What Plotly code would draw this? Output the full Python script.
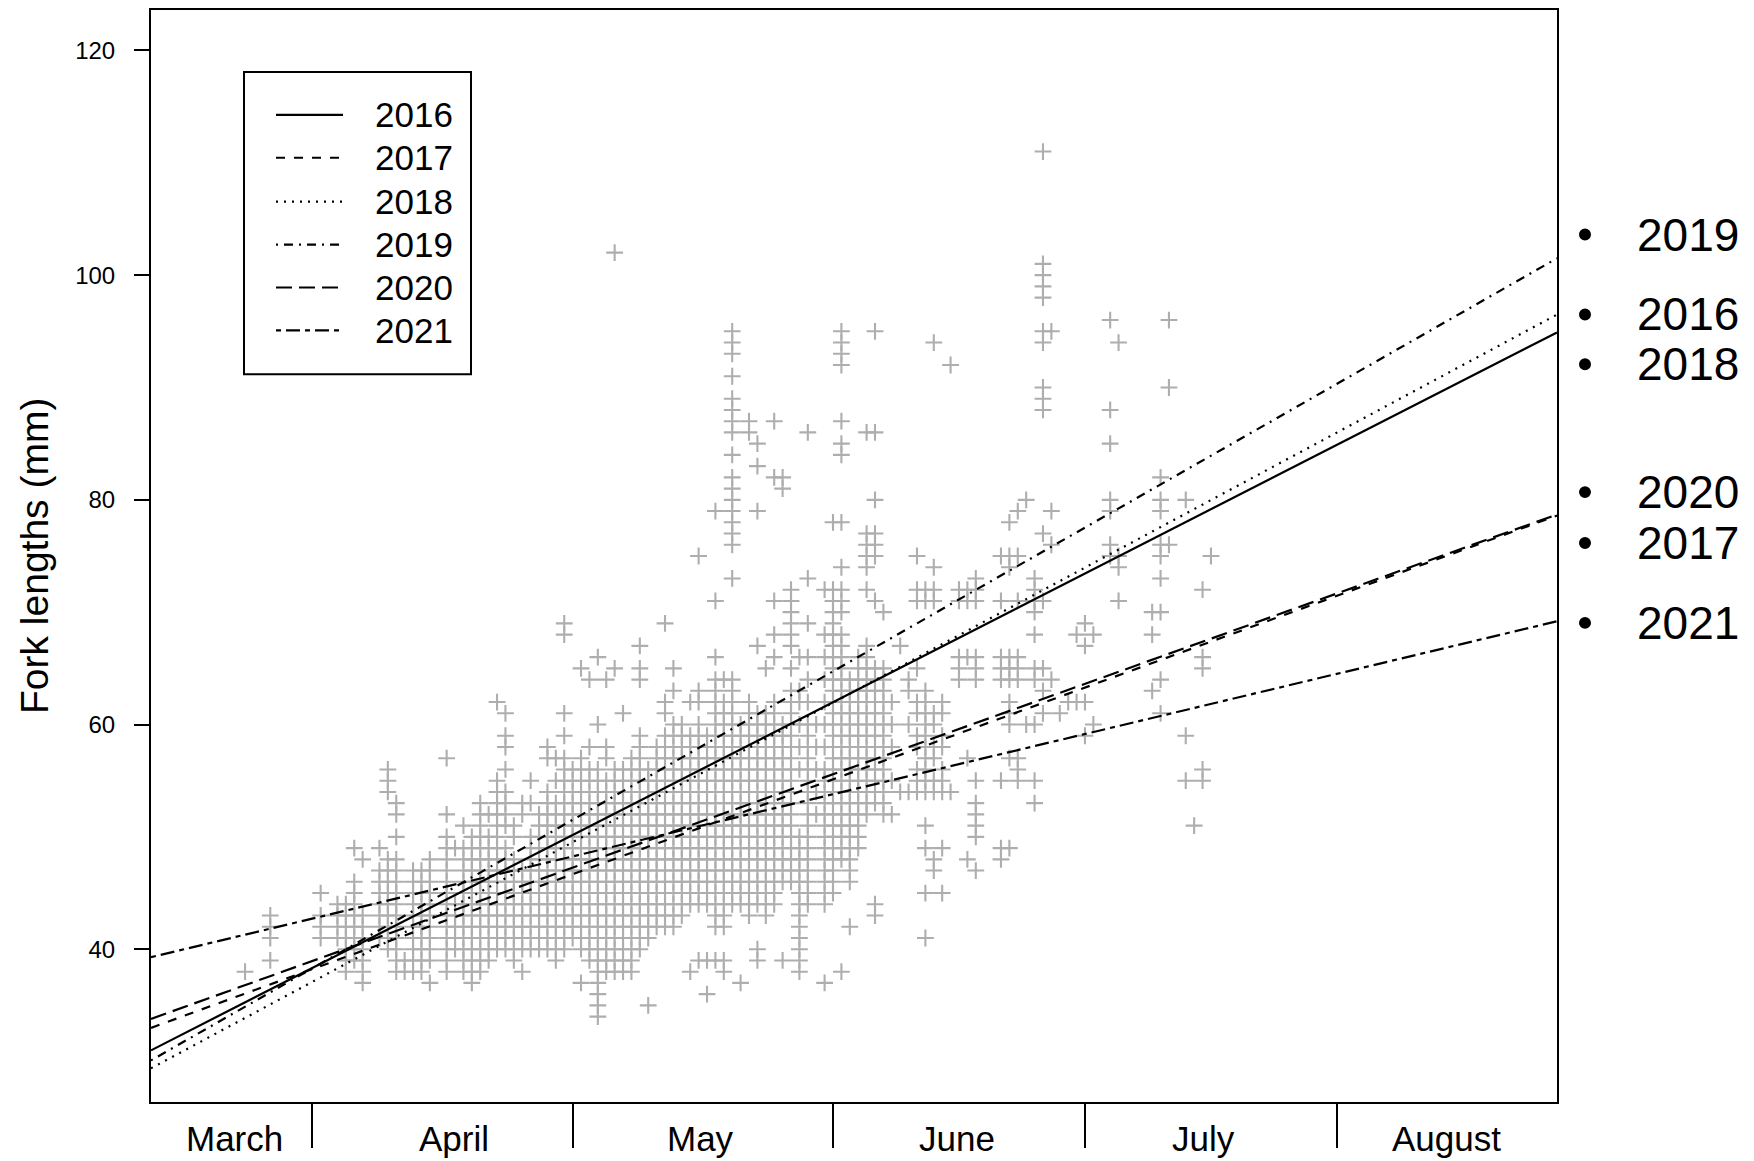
import plotly.graph_objects as go

W, H = 1754, 1161
# plot-area edges in pixels (layout only)
L, R, T, B = 151, 1557, 8, 1102

# ---------------- data ----------------
obs_days = [83, 86, 92, 94, 95, 96, 97, 99, 100, 101, 102, 103, 104, 105, 107, 108, 109, 110,
            111, 112, 113, 114, 115, 116, 117, 118, 119, 120,
            121, 122, 123, 124, 125, 126, 127, 128, 129, 130, 131, 132, 133, 134, 135, 136,
            137, 138, 139, 140, 141, 142, 143, 144, 145, 146, 147, 148, 149, 150, 151, 152,
            153, 154, 155, 156, 157, 158, 159, 160,
            161, 162, 163, 164, 165, 166, 167, 168, 169, 170, 173, 174, 175, 176, 177, 178,
            179, 180, 181, 182, 183, 184, 186, 187, 191, 192, 193, 195, 196, 197, 198]

obs_lengths = [
    [38],
    [43, 42, 41, 39],
    [45, 43, 42, 41],
    [44, 43, 42, 41],
    [44, 43, 42, 41, 40, 39, 38],
    [49, 46, 45, 44, 43, 42, 41, 40, 39],
    [48, 43, 42, 41, 40, 39, 38, 37],
    [49, 47, 46, 45, 44, 43, 42, 41],
    [56, 55, 54, 48, 47, 46, 45, 44, 43, 42, 41, 40],
    [53, 52, 50, 48, 47, 46, 45, 44, 43, 42, 41, 40, 39, 38],
    [39, 38],
    [47, 46, 45, 44, 43, 42, 41, 40, 39, 38],
    [47, 46, 45, 44, 43, 42, 41, 40, 39, 38],
    [48, 47, 46, 45, 44, 43, 42, 41, 40, 39, 37],
    [57, 52, 50, 49, 48, 47, 46, 45, 44, 43, 42, 41, 40, 39, 38],
    [49, 44, 43, 42, 41, 40],
    [51, 49, 48, 47, 46, 45, 44, 43, 42, 41, 40, 39, 38],
    [50, 49, 48, 47, 46, 45, 44, 43, 42, 41, 40, 39, 38, 37],
    [53, 52, 51, 50, 49, 48, 47, 46, 45, 44, 43, 42, 41, 40, 39, 38],
    [52, 50, 49, 48, 47, 46, 45, 44, 43, 42, 41, 40, 39],
    [62, 55, 54, 53, 52, 51, 50, 49, 48, 47, 46, 45, 44, 43, 42, 41, 40],
    [61, 59, 58, 56, 54, 53, 52, 51, 49, 48, 47, 46, 45, 44, 43, 42, 41, 40],
    [51, 50, 48, 47, 46, 45, 44, 43, 42, 41, 40, 39],
    [53, 52, 47, 46, 45, 44, 43, 42, 41, 40, 38],
    [55, 53, 50, 49, 48, 47, 46, 45, 44, 43, 42, 41, 40],
    [52, 51, 50, 49, 48, 47, 46, 45, 44, 43, 42, 41, 40],
    [58, 57, 54, 53, 52, 51, 50, 49, 48, 47, 46, 45, 44, 43, 42, 41, 40],
    [57, 55, 53, 52, 51, 50, 49, 48, 47, 46, 45, 44, 43, 42, 41, 40, 39],
    [69, 68, 61, 59, 57, 56, 55, 54, 53, 52, 51, 50, 49, 48, 47, 46, 45, 44, 43, 42, 41, 40],
    [56, 55, 54, 53, 52, 51, 50, 49, 48, 47, 46, 45, 44, 43, 42, 41],
    [65, 57, 56, 55, 54, 53, 52, 51, 50, 49, 48, 47, 46, 45, 44, 43, 42, 41, 40, 37],
    [64, 58, 56, 55, 54, 53, 52, 51, 50, 49, 48, 47, 46, 45, 44, 43, 42, 41, 40, 39],
    [66, 60, 56, 55, 54, 53, 52, 51, 50, 49, 48, 47, 46, 45, 44, 43, 42, 41, 40, 39, 38, 37, 36, 35, 34],
    [64, 58, 57, 55, 54, 53, 52, 51, 50, 49, 48, 47, 46, 45, 44, 43, 42, 41, 40, 39, 38],
    [102, 65, 56, 55, 54, 53, 52, 51, 50, 49, 48, 47, 46, 45, 44, 43, 42, 41, 40, 39, 38],
    [61, 56, 55, 54, 53, 52, 51, 50, 49, 48, 47, 46, 45, 44, 43, 42, 41, 40, 39, 38],
    [57, 56, 55, 54, 53, 52, 51, 50, 49, 48, 47, 46, 45, 44, 43, 42, 41, 40, 39, 38],
    [67, 65, 64, 59, 58, 57, 56, 55, 54, 53, 52, 51, 50, 49, 48, 47, 46, 45, 44, 43, 42, 41, 40],
    [56, 55, 54, 53, 52, 51, 50, 49, 48, 47, 46, 45, 44, 43, 42, 41, 35],
    [58, 57, 56, 55, 54, 53, 52, 51, 50, 49, 48, 47, 46, 45, 44, 43, 42],
    [69, 62, 61, 59, 58, 57, 56, 55, 54, 53, 52, 51, 50, 49, 48, 47, 46, 45, 44, 43, 42],
    [65, 63, 60, 59, 58, 57, 56, 55, 54, 53, 52, 51, 50, 49, 48, 47, 46, 45, 44, 43, 42],
    [60, 59, 58, 57, 56, 55, 54, 53, 52, 51, 50, 49, 48, 47, 46, 45, 44, 43],
    [62, 59, 58, 57, 56, 55, 54, 53, 52, 51, 50, 49, 48, 47, 46, 45, 44, 38],
    [75, 63, 62, 60, 59, 58, 57, 56, 55, 54, 53, 52, 51, 50, 49, 48, 47, 46, 45, 44, 39],
    [59, 58, 57, 56, 55, 54, 53, 52, 51, 50, 49, 48, 47, 46, 45, 44, 39, 36],
    [79, 71, 66, 64, 63, 62, 61, 60, 59, 58, 57, 56, 55, 54, 53, 52, 51, 50, 49, 48, 47, 46, 45, 44, 43, 42, 39],
    [64, 62, 61, 60, 59, 58, 57, 56, 55, 54, 53, 52, 51, 50, 49, 48, 47, 46, 45, 44, 43, 42, 39, 38],
    [95, 94, 93, 91, 89, 88, 87, 86, 84, 82, 81, 80, 79, 78, 77, 76, 73, 64, 63, 62, 61, 60, 59, 58,
     57, 56, 55, 54, 53, 52, 51, 50, 49, 48, 47, 46, 45, 44],
    [60, 59, 58, 57, 56, 55, 54, 53, 52, 51, 50, 49, 48, 47, 46, 45, 44, 37],
    [87, 86, 62, 61, 60, 59, 58, 57, 56, 55, 54, 53, 52, 51, 50, 49, 48, 47, 46, 45, 44, 43],
    [85, 83, 79, 67, 61, 60, 59, 58, 57, 56, 55, 54, 53, 52, 51, 50, 49, 48, 47, 46, 45, 44, 40, 39],
    [65, 61, 60, 59, 58, 57, 56, 55, 54, 53, 52, 51, 50, 49, 48, 47, 46, 45, 44, 43],
    [87, 82, 71, 68, 66, 62, 61, 60, 59, 58, 57, 56, 55, 54, 53, 52, 51, 50, 49, 48, 47, 46, 45, 44],
    [82, 81, 60, 59, 58, 57, 56, 55, 54, 53, 52, 51, 50, 49, 48, 47, 46, 39],
    [72, 71, 70, 69, 68, 67, 65, 63, 62, 61, 60, 59, 58, 57, 56, 55, 54, 53, 52, 51, 50, 49, 48, 47, 46],
    [66, 63, 62, 60, 58, 56, 50, 49, 48, 47, 46, 45, 44, 43, 42, 41, 40, 39, 38],
    [86, 73, 69, 66, 64, 62, 60, 59, 58, 57, 56, 55, 54, 53, 52, 51, 50, 49, 48, 47, 46, 45, 44],
    [60, 58, 56, 54, 52],
    [72, 68, 66, 64, 62, 60, 58, 56, 55, 54, 53, 52, 51, 50, 49, 48, 47, 46, 45, 44, 37],
    [78, 72, 71, 70, 69, 68, 67, 66, 65, 64, 63, 62, 61, 60, 59, 58, 57, 56, 55, 54, 53, 52, 51, 50,
     49, 48, 47, 46, 45],
    [95, 94, 93, 92, 87, 85, 84, 78, 74, 72, 71, 70, 68, 67, 66, 65, 64, 63, 62, 61, 60, 59, 58, 57,
     56, 55, 54, 53, 52, 51, 50, 49, 48, 38],
    [64, 63, 62, 61, 60, 59, 58, 57, 56, 55, 54, 53, 52, 51, 50, 49, 48, 47, 46, 42],
    [66, 65, 64, 63, 62, 61, 60, 59, 58, 57, 56, 55, 54, 53, 52, 51, 50, 49],
    [86, 77, 76, 75, 74, 72, 67, 66, 65, 64, 63, 62, 61, 60, 59, 58, 57, 56, 55, 54, 53, 52],
    [95, 86, 80, 77, 76, 75, 71, 65, 64, 63, 62, 61, 60, 59, 58, 57, 56, 55, 54, 53, 44, 43],
    [70, 65, 64, 63, 62, 61, 60, 59, 58, 57, 56, 55, 54, 53, 52],
    [62, 60, 58, 55, 52],
    [67, 54],
    [64, 63, 60, 54],
    [75, 72, 71, 65, 62, 61, 59, 58, 56, 55, 54],
    [72, 71, 63, 62, 61, 60, 59, 58, 57, 56, 55, 54, 51, 49, 45, 41],
    [94, 74, 72, 71, 61, 60, 58, 57, 55, 54, 48, 47],
    [62, 61, 59, 58, 56, 55, 54, 49, 45],
    [92, 54],
    [72, 71, 66, 65, 64],
    [72, 71, 66, 57, 48],
    [73, 72, 71, 66, 65, 64, 55, 53, 52, 51, 50, 47],
    [75, 71, 66, 65, 64, 55, 49, 48],
    [78, 75, 74, 66, 65, 64, 62, 61, 60, 57, 49],
    [79, 75, 71, 66, 65, 64, 57, 56, 55],
    [80, 60],
    [73, 72, 71, 70, 68, 65, 64, 60, 55, 53],
    [111, 101, 100, 99, 98, 95, 94, 90, 89, 88, 77, 71, 65, 63, 61],
    [95, 79, 76, 64],
    [61],
    [62],
    [68, 62],
    [69, 67, 62, 59],
    [68, 60],
    [96, 88, 85, 80, 79, 76, 75],
    [94, 75, 74, 71],
    [70, 68, 63],
    [82, 80, 79, 76, 75, 73, 70, 64, 61],
    [96, 90, 76],
    [80, 59, 55],
    [51],
    [72, 66, 65, 56, 55],
    [75],
]

years = ["2016", "2017", "2018", "2019", "2020", "2021"]
fit_intercept = [3.59, 13.44, 0.62, -0.52, 14.54, 26.47]
fit_slope = [0.3817, 0.2724, 0.4008, 0.4265, 0.2682, 0.1786]
line_dash = ["solid", "9px,9px", "2px,6px", "2px,6px,9px,6px", "16px,7px", "5px,5px,14px,5px"]

x_range = [71.8, 239.2]
y_range = [26.4, 123.6]
month_tick_days = [91, 122, 153, 183, 213]
month_labels = ["March", "April", "May", "June", "July", "August"]
month_label_days = [81.7, 107.9, 137.2, 167.8, 197.1, 226.1]
y_ticks = [40, 60, 80, 100, 120]

end_label_years = ["2019", "2016", "2018", "2020", "2017", "2021"]
end_label_px = [233, 313, 363, 491, 542, 622]
legend_row_px = [113, 156, 200, 243, 286, 329]


def px_x(p):
    """figure pixel x -> paper coordinate"""
    return (p - L) / (R - L)


def px_y(p):
    """figure pixel y -> paper coordinate"""
    return (B - p) / (B - T)


# ---------------- figure ----------------
fig = go.Figure()

xs, ys = [], []
for d, vals in zip(obs_days, obs_lengths):
    for v in vals:
        xs.append(d)
        ys.append(v)

fig.add_trace(go.Scatter(
    x=xs, y=ys, mode="markers",
    marker=dict(symbol="cross-thin", size=12, color="#aeaeae",
                line=dict(color="#aeaeae", width=2.1)),
    hoverinfo="skip", showlegend=False))

for yr, a, b, dash in zip(years, fit_intercept, fit_slope, line_dash):
    fig.add_trace(go.Scatter(
        x=x_range, y=[a + b * x_range[0], a + b * x_range[1]],
        mode="lines", name=yr,
        line=dict(color="black", width=2.2, dash=dash),
        showlegend=False))

shapes = []
annotations = []

# legend box
shapes.append(dict(type="rect", xref="paper", yref="paper",
                   x0=px_x(244), x1=px_x(471), y0=px_y(373), y1=px_y(70),
                   line=dict(color="black", width=2), fillcolor="white", layer="above"))
for yr, dash, ry in zip(years, line_dash, legend_row_px):
    shapes.append(dict(type="line", xref="paper", yref="paper",
                       x0=px_x(276), x1=px_x(343), y0=px_y(ry), y1=px_y(ry),
                       line=dict(color="black", width=2.2, dash=dash), layer="above"))
    annotations.append(dict(text=yr, xref="paper", yref="paper", x=px_x(373), y=px_y(ry),
                            xanchor="left", yanchor="middle", showarrow=False,
                            font=dict(size=35, color="black")))

# month labels
for lab, d in zip(month_labels, month_label_days):
    annotations.append(dict(text=lab, xref="x", yref="paper", x=d, y=0, yshift=-36,
                            xanchor="center", yanchor="middle", showarrow=False,
                            font=dict(size=35, color="black")))

# y title
annotations.append(dict(text="Fork lengths (mm)", xref="paper", yref="paper",
                        x=px_x(34), y=0.5, textangle=-90, showarrow=False,
                        xanchor="center", yanchor="middle",
                        font=dict(size=39, color="black")))

# right-side year labels with bullets
r_dot = 6
for yr, py in zip(end_label_years, end_label_px):
    shapes.append(dict(type="circle", xref="paper", yref="paper",
                       x0=px_x(1585 - r_dot), x1=px_x(1585 + r_dot),
                       y0=px_y(py + r_dot), y1=px_y(py - r_dot),
                       fillcolor="black", line=dict(color="black", width=0)))
    annotations.append(dict(text=yr, xref="paper", yref="paper", x=px_x(1635), y=px_y(py),
                            xanchor="left", yanchor="middle", showarrow=False,
                            font=dict(size=46, color="black")))

fig.update_layout(
    width=W, height=H,
    margin=dict(l=L, r=W - R, t=T, b=H - B, pad=0),
    plot_bgcolor="white", paper_bgcolor="white",
    showlegend=False,
    font=dict(family="Liberation Sans, Arial, sans-serif", color="black"),
    shapes=shapes, annotations=annotations,
)
fig.update_xaxes(range=x_range, showgrid=False, zeroline=False, showline=True, mirror=True,
                 linecolor="black", linewidth=2, ticks="outside", tickvals=month_tick_days,
                 ticklen=44, tickwidth=2, tickcolor="black", showticklabels=False)
fig.update_yaxes(range=y_range, showgrid=False, zeroline=False, showline=True, mirror=True,
                 linecolor="black", linewidth=2, ticks="outside", tickvals=y_ticks,
                 ticklen=15, tickwidth=2, tickcolor="black",
                 tickfont=dict(size=24, color="black"), ticklabelstandoff=14)

# remove the browser's default page margin so the figure fills the window exactly
fig.write_html("out.html",
               config={"displayModeBar": False, "staticPlot": True},
               post_script="document.body.style.margin='0';document.body.style.overflow='hidden';")
